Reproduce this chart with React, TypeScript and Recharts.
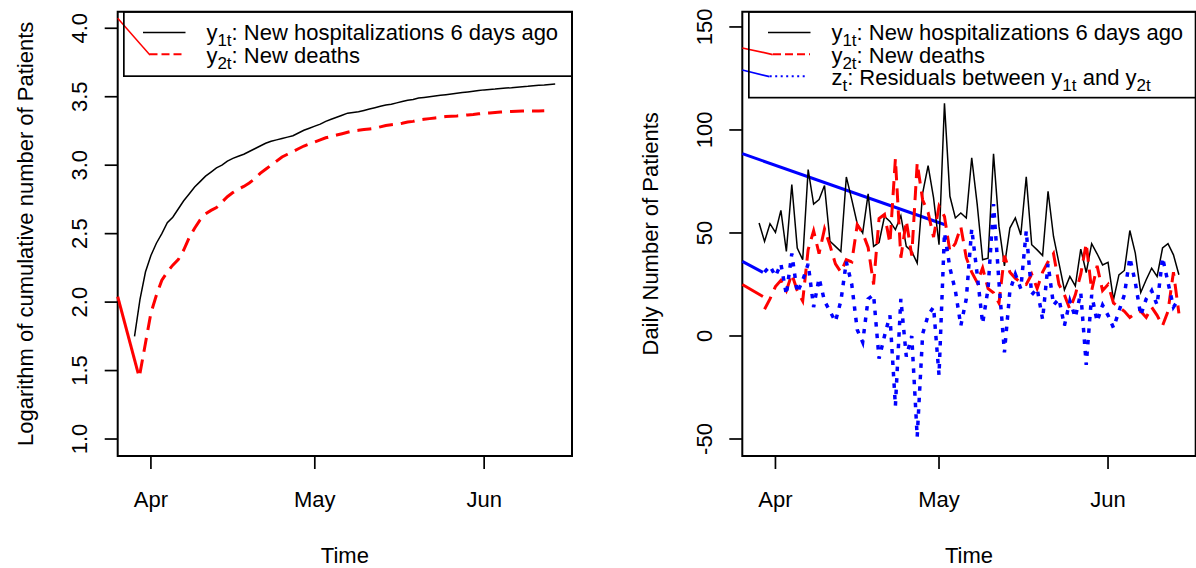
import React from 'react';
import { LineChart, Line, XAxis, YAxis, ReferenceArea, ReferenceLine, Legend } from 'recharts';

// days are counted from Apr 1 (day 0); the series run from Mar 29 to Jun 14
const FIRST_DAY = -3;
const X_DOMAIN = [-6.08, 77.08];
const MONTH_TICKS = [0, 30, 61];
const MONTH_LABELS = ['Apr', 'May', 'Jun'];

const LOG_TICKS = [1.0, 1.5, 2.0, 2.5, 3.0, 3.5, 4.0];
const LOG_DOMAIN = [0.876, 4.121];
const DAILY_TICKS = [-50, 0, 50, 100, 150];
const DAILY_DOMAIN = [-58.25, 157.4];

// log of cumulative counts
const logHosp = [1.75, 2.02, 2.22, 2.34, 2.43, 2.5, 2.58, 2.62, 2.68, 2.74, 2.79, 2.84, 2.88, 2.92, 2.95, 2.98, 3.0, 3.03, 3.05, 3.065,
  3.08, 3.1, 3.12, 3.14, 3.16, 3.175, 3.185, 3.195, 3.205, 3.215, 3.235, 3.255, 3.27, 3.285, 3.3, 3.32, 3.335, 3.35, 3.365, 3.38,
  3.385, 3.39, 3.4, 3.41, 3.42, 3.43, 3.44, 3.445, 3.455, 3.465, 3.475, 3.48, 3.49, 3.495, 3.5, 3.505, 3.51, 3.515, 3.52, 3.525,
  3.53, 3.535, 3.54, 3.545, 3.55, 3.553, 3.556, 3.56, 3.563, 3.566, 3.57, 3.573, 3.576, 3.58, 3.583, 3.586, 3.59, 3.593];
const logDeaths = [null, 1.48, 1.7, 1.92, 2.05, 2.16, 2.22, 2.27, 2.31, 2.38, 2.47, 2.54, 2.6, 2.645, 2.67, 2.69, 2.73, 2.77, 2.8, 2.825,
  2.845, 2.87, 2.9, 2.94, 2.97, 3.0, 3.03, 3.06, 3.08, 3.1, 3.12, 3.14, 3.155, 3.17, 3.185, 3.2, 3.21, 3.22, 3.23, 3.24,
  3.25, 3.255, 3.26, 3.265, 3.27, 3.28, 3.29, 3.295, 3.3, 3.307, 3.315, 3.32, 3.33, 3.335, 3.34, 3.345, 3.35, 3.355, 3.358, 3.36,
  3.363, 3.367, 3.37, 3.375, 3.38, 3.382, 3.385, 3.388, 3.39, 3.392, 3.394, 3.395, 3.396, 3.396, 3.396, 3.397, null, null];

// daily counts
const newHosp = [54.8, 45.9, 54.5, 50.3, 61, 41, 73.5, 42.7, 37, 80.8, 64, 66.2, 73, 46, 43.5, 41, 77.2, 66.2, 54.5, 50,
  69, 43.5, 45.4, 58, 55.6, 51.6, 58.4, 43.5, 41, 35.4, 69.4, 82.7, 67, 44.3, 112.9, 67.8, 57.3, 59.7, 57.3, 86.5,
  64, 37, 37.8, 88.4, 53.2, 34, 52.4, 57.3, 49, 77.2, 44.3, 41.8, 39, 70.2, 48.3, 35.4, 22.4, 28.9, 24.3, 42.2,
  30.8, 44.8, 39.9, 34.5, 35.7, 17.5, 29.7, 31.8, 51.2, 40.2, 21.1, 27.3, 32.9, 28.9, 42.7, 44.8, 39.4, 29.7];
const newDeaths = [null, 13, 18, 24, 27, 22, 30, 22, 17, 42, 51, 40, 52, 44, 35, 31, 37, 36, 54, 50,
  43, 25, 57, 59, 45, 86, 38, 56, 39, 84, 66, 60, 48, 63, 58, 41, 45, 53, 38, 31,
  26, 33, 23, 21, 16, 39, 31, 28, 26, 25, 30, 23, 31, 36, 40, 25, 20, 13, 20, 30,
  45, 22, 34, 22, 25, 16, 14, 12, 9, 11, 12, 9, 14, 10, 5, 12, 31, 11];
const residuals = [null, 31, 34, 29, 35, 20, 40, 21, 27, 35, 14, 28, 17, 12, 7, 17, 36, 25, 3, -3,
  18, 20, -11, 0, 10, -34, 18, -10, 0, -49, 1, 10, 14, -19, 50, 33, 22, 5, 18, 52,
  30, 6, 23, 64, 26, -8, 22, 30, 23, 51, 20, 23, 8, 35, 15, 18, 5, 17, 9, 21,
  -14, 20, 7, 15, 10, 4, 12, 20, 38, 26, 10, 18, 22, 15, 38, 26, 14, 18];

// stray straight segments drawn in the original, in data units [day, value]
const leftRedThin = [[-6.08, 4.073], [-0.18, 3.805]];
const leftRedThick = [[-6.08, 2.04], [-2.33, 1.48]];
const rightRedThin = [[-6.08, 139.8], [-0.5, 136.6]];
const rightBlueThin = [[-6.08, 129.1], [-1.1, 125.9]];
const rightBlueLong = [[-6.08, 88.5], [31.1, 54.0]];
const rightBlueShort = [[-6.08, 36.2], [-2.3, 30.9]];
const rightRedShort = [[-6.08, 25.0], [-2.3, 19.2]];

// legend entries: plain text pieces and subscripts (marked with '_')
const legendHosp = ['y', '_1t', ': New hospitalizations 6 days ago'];
const legendDeaths = ['y', '_2t', ': New deaths'];
const legendResid = ['z', '_t', ': Residuals between y', '_1t', ' and y', '_2t'];

const logData = logHosp.map((v, i) => ({ d: FIRST_DAY + i, hosp: v, deaths: logDeaths[i] }));
const dailyData = newHosp.map((v, i) => ({ d: FIRST_DAY + i, hosp: v, deaths: newDeaths[i], resid: residuals[i] }));

const FONT = '"Liberation Sans", Arial, Helvetica, sans-serif';
const RED = '#ff0000';
const BLUE = '#0000ff';
const SUB_SHIFT = 6;

const MonthTick = (props: any) => {
  const { x, y, payload } = props;
  const idx = MONTH_TICKS.indexOf(payload.value);
  return (
    <text x={x} y={y} dy={15.7} textAnchor="middle" fontSize={22} fontFamily={FONT} fill="#000">
      {MONTH_LABELS[idx]}
    </text>
  );
};

const makeYTick = (fmt: (v: number) => string) => (props: any) => {
  const { x, y, payload } = props;
  return (
    <text x={x} y={y} transform={`rotate(-90, ${x}, ${y})`} textAnchor="middle" fontSize={22} fontFamily={FONT} fill="#000">
      {fmt(payload.value)}
    </text>
  );
};

const YTitle = (props: any) => {
  const { viewBox, text } = props;
  const x = viewBox.x + viewBox.width - 84.7;
  const y = viewBox.y + viewBox.height / 2;
  return (
    <text x={x} y={y} transform={`rotate(-90, ${x}, ${y})`} textAnchor="middle" fontSize={22} fontFamily={FONT} fill="#000">
      {text}
    </text>
  );
};

const XTitle = (props: any) => {
  const { viewBox } = props;
  return (
    <text x={viewBox.x + viewBox.width / 2} y={viewBox.y + 106.7} textAnchor="middle" fontSize={22} fontFamily={FONT} fill="#000">
      Time
    </text>
  );
};

// one legend label with subscripts; each piece carries its own baseline shift
const RichText = ({ x, y, parts }: { x: number; y: number; parts: string[] }) => {
  let shifted = false;
  return (
    <text x={x} y={y} fill="#000" fontFamily={FONT} fontSize={22}>
      {parts.map((p, i) => {
        const isSub = p.startsWith('_');
        let dy = 0;
        if (isSub && !shifted) { dy = SUB_SHIFT; shifted = true; }
        if (!isSub && shifted) { dy = -SUB_SHIFT; shifted = false; }
        return (
          <tspan key={i} dy={dy} fontSize={isSub ? 17 : 22}>
            {isSub ? p.slice(1) : p}
          </tspan>
        );
      })}
    </text>
  );
};

const LogLegend = () => (
  <svg width={450} height={66} style={{ display: 'block', overflow: 'visible' }}>
    <rect x={0.85} y={0.85} width={448} height={64.3} fill="none" stroke="#000" strokeWidth={1.7} />
    <line x1={20} y1={21.6} x2={62.5} y2={21.6} stroke="#000" strokeWidth={1.5} />
    <line x1={26.5} y1={43.3} x2={62.5} y2={43.3} stroke={RED} strokeWidth={2} strokeDasharray="8 4" />
    <RichText x={83.4} y={29} parts={legendHosp} />
    <RichText x={83.4} y={51.6} parts={legendDeaths} />
  </svg>
);

const DailyLegend = () => (
  <svg width={450} height={88} style={{ display: 'block', overflow: 'visible' }}>
    <rect x={0.85} y={0.85} width={448} height={85.8} fill="none" stroke="#000" strokeWidth={1.7} />
    <line x1={20} y1={21.6} x2={62.5} y2={21.6} stroke="#000" strokeWidth={1.5} />
    <line x1={25} y1={43.3} x2={62} y2={43.3} stroke={RED} strokeWidth={2} strokeDasharray="8 4" />
    <line x1={21.7} y1={65.3} x2={58} y2={65.3} stroke={BLUE} strokeWidth={2} strokeDasharray="2 3.5" />
    <RichText x={83.4} y={29} parts={legendHosp} />
    <RichText x={83.4} y={51.6} parts={legendDeaths} />
    <RichText x={83.4} y={74} parts={legendResid} />
  </svg>
);

const seg = (s: number[][]) => [{ x: s[0][0], y: s[0][1] }, { x: s[1][0], y: s[1][1] }];

const tickLine = { stroke: '#000', strokeWidth: 1.7 };

export default function App() {
  return (
    <div style={{ position: 'absolute', left: 0, top: 0, width: 1196, height: 568, background: '#fff', overflow: 'hidden' }}>
      <div style={{ position: 'absolute', left: 0, top: 0 }}>
        <LineChart width={600} height={568} data={logData} margin={{ top: 11.7, right: 28, bottom: 0, left: 0 }}>
          <XAxis type="number" dataKey="d" domain={X_DOMAIN} ticks={MONTH_TICKS} interval={0} allowDataOverflow
            axisLine={false} tickLine={tickLine} tickSize={13} tickMargin={22} tick={<MonthTick />} height={112}
            label={<XTitle />} />
          <YAxis type="number" domain={LOG_DOMAIN} ticks={LOG_TICKS} interval={0} allowDataOverflow
            axisLine={false} tickLine={tickLine} tickSize={13} tickMargin={17.7} width={117.7}
            tick={makeYTick((v) => v.toFixed(1))}
            label={<YTitle text="Logarithm of cumulative number of Patients" />} />
          <ReferenceArea x1={X_DOMAIN[0]} x2={X_DOMAIN[1]} y1={LOG_DOMAIN[0]} y2={LOG_DOMAIN[1]}
            fill="none" fillOpacity={0} stroke="#000" strokeWidth={2} ifOverflow="visible" />
          <ReferenceLine segment={seg(leftRedThin)} stroke={RED} strokeWidth={1.5} ifOverflow="visible" />
          <ReferenceLine segment={seg(leftRedThick)} stroke={RED} strokeWidth={3} ifOverflow="visible" />
          <Line dataKey="hosp" stroke="#000" strokeWidth={1.5} dot={false} activeDot={false} isAnimationActive={false} />
          <Line dataKey="deaths" stroke={RED} strokeWidth={3} strokeDasharray="14 8" dot={false} activeDot={false}
            isAnimationActive={false} />
          <Legend layout="horizontal" verticalAlign="middle" align="center" content={() => <LogLegend />}
            wrapperStyle={{ left: 122.5, top: 10.9, width: 450, height: 66 }} />
        </LineChart>
      </div>
      <div style={{ position: 'absolute', left: 600, top: 0 }}>
        <LineChart width={596} height={568} data={dailyData} margin={{ top: 11.7, right: 0.3, bottom: 0, left: 0 }}>
          <XAxis type="number" dataKey="d" domain={X_DOMAIN} ticks={MONTH_TICKS} interval={0} allowDataOverflow
            axisLine={false} tickLine={tickLine} tickSize={13} tickMargin={22} tick={<MonthTick />} height={112}
            label={<XTitle />} />
          <YAxis type="number" domain={DAILY_DOMAIN} ticks={DAILY_TICKS} interval={0} allowDataOverflow
            axisLine={false} tickLine={tickLine} tickSize={13} tickMargin={17.7} width={142.3}
            tick={makeYTick((v) => String(v))}
            label={<YTitle text="Daily Number of Patients" />} />
          <ReferenceArea x1={X_DOMAIN[0]} x2={X_DOMAIN[1]} y1={DAILY_DOMAIN[0]} y2={DAILY_DOMAIN[1]}
            fill="none" fillOpacity={0} stroke="#000" strokeWidth={2} ifOverflow="visible" />
          <ReferenceLine segment={seg(rightRedThin)} stroke={RED} strokeWidth={1.7} ifOverflow="visible" />
          <ReferenceLine segment={seg(rightBlueThin)} stroke={BLUE} strokeWidth={1.7} ifOverflow="visible" />
          <ReferenceLine segment={seg(rightBlueLong)} stroke={BLUE} strokeWidth={3} ifOverflow="visible" />
          <ReferenceLine segment={seg(rightBlueShort)} stroke={BLUE} strokeWidth={3} ifOverflow="visible" />
          <ReferenceLine segment={seg(rightRedShort)} stroke={RED} strokeWidth={3} ifOverflow="visible" />
          <Line dataKey="hosp" stroke="#000" strokeWidth={1.5} dot={false} activeDot={false} isAnimationActive={false} />
          <Line dataKey="deaths" stroke={RED} strokeWidth={3} strokeDasharray="14 8" dot={false} activeDot={false}
            isAnimationActive={false} />
          <Line dataKey="resid" stroke={BLUE} strokeWidth={3.5} strokeDasharray="4.5 7" dot={false} activeDot={false}
            isAnimationActive={false} />
          <Legend layout="horizontal" verticalAlign="middle" align="center" content={() => <DailyLegend />}
            wrapperStyle={{ left: 147.5, top: 10.9, width: 450, height: 88 }} />
        </LineChart>
      </div>
    </div>
  );
}
